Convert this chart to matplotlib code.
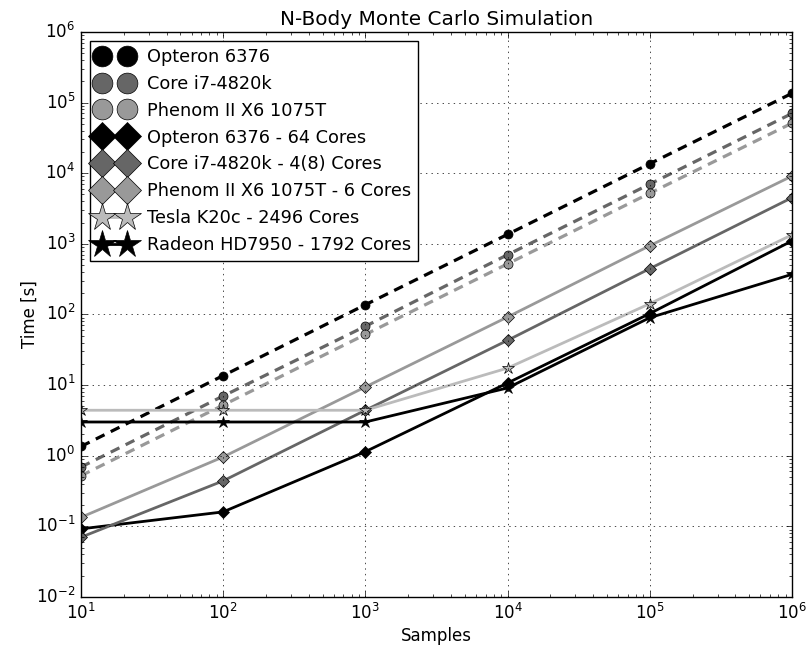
import matplotlib
matplotlib.use("Agg")
import matplotlib.pyplot as plt

plt.style.use("classic")

samples = [1e1, 1e2, 1e3, 1e4, 1e5, 1e6]

# single core timings (circles, dashed)
opteron_1 = [1.35, 13.6, 137, 1360, 13600, 135000]
corei7_1 = [0.69, 7.0, 68, 700, 7000, 70000]
phenom_1 = [0.52, 5.2, 52, 520, 5200, 51000]

# multi core timings (diamonds)
opteron_64 = [0.092, 0.16, 1.14, 10.7, 103, 1100]
corei7_8 = [0.070, 0.44, 4.4, 43, 445, 4500]
phenom_6 = [0.134, 0.96, 9.4, 92, 940, 9100]

# gpu timings (stars)
tesla = [4.4, 4.4, 4.4, 17.4, 142, 1340]
radeon = [3.0, 3.0, 3.0, 9.1, 90, 370]

BLACK = "#000000"
DARK = "#666666"
MID = "#999999"
LIGHT = "#bbbbbb"

fig = plt.figure(figsize=(8.09, 6.51), dpi=100)
fig.patch.set_facecolor("white")
ax = fig.add_axes([0.100, 0.083, 0.879, 0.868])

# dashed guide lines for single core runs
for vals, col in [(opteron_1, BLACK), (corei7_1, DARK), (phenom_1, MID)]:
    ax.plot(samples, vals, "--", color=col, linewidth=2.3, dashes=(7, 5))

ax.plot(samples, opteron_1, "o", color=BLACK, mec="k", ms=6.5, label="Opteron 6376")
ax.plot(samples, corei7_1, "o", color=DARK, mec="k", ms=6.5, label="Core i7-4820k")
ax.plot(samples, phenom_1, "o", color=MID, mec="k", ms=6.5, label="Phenom II X6 1075T")

ax.plot(samples, opteron_64, "-D", color=BLACK, mfc=BLACK, mec="k", ms=6, lw=2,
        label="Opteron 6376 - 64 Cores")
ax.plot(samples, corei7_8, "-D", color=DARK, mfc=DARK, mec="k", ms=6, lw=2,
        label="Core i7-4820k - 4(8) Cores")
ax.plot(samples, phenom_6, "-D", color=MID, mfc=MID, mec="k", ms=6, lw=2,
        label="Phenom II X6 1075T - 6 Cores")
ax.plot(samples, tesla, "-*", color=LIGHT, mfc=LIGHT, mec="k", ms=9, lw=2,
        label="Tesla K20c - 2496 Cores")
ax.plot(samples, radeon, "-*", color=BLACK, mfc=BLACK, mec="k", ms=9, lw=2,
        label="Radeon HD7950 - 1792 Cores")

ax.set_xscale("log")
ax.set_yscale("log")
ax.set_xlim(1e1, 1e6)
ax.set_ylim(1e-2, 1e6)
ax.grid(True)
ax.set_title("N-Body Monte Carlo Simulation")
ax.set_xlabel("Samples", labelpad=3)
ax.set_ylabel("Time [s]", labelpad=-2)
ax.legend(loc="upper left", numpoints=2, markerscale=2.3, fontsize=12.8)

fig.savefig("out.png", dpi=100, facecolor="white")
